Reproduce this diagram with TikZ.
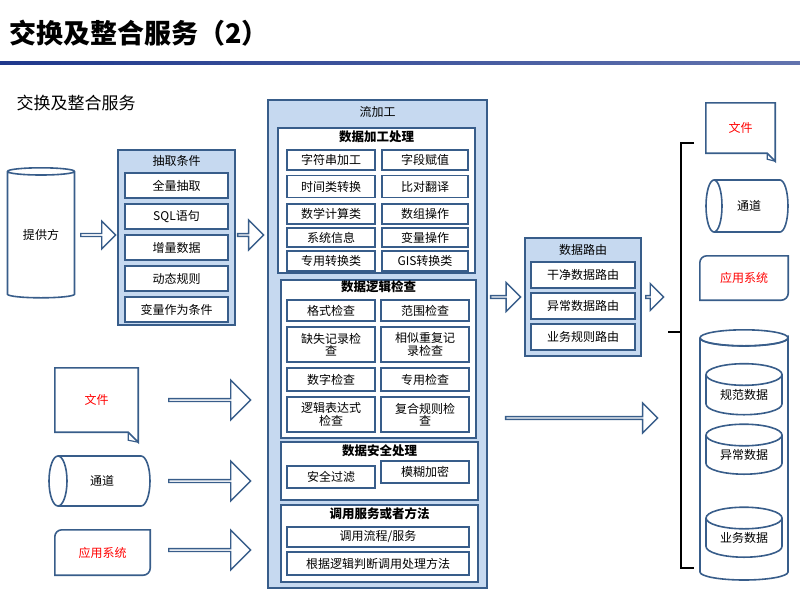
\documentclass[tikz,border=0pt]{standalone}
\usepackage{fontspec}
\setmainfont{Noto Sans CJK SC}
\usetikzlibrary{shapes.geometric, shapes.arrows}
\definecolor{frameblue}{RGB}{56,93,138}
\definecolor{paleblue}{RGB}{198,217,240}
\definecolor{titleblue}{RGB}{31,56,140}
\tikzset{
  outer/.style={rectangle, draw=frameblue, line width=2pt, fill=paleblue, inner sep=0pt},
  group/.style={rectangle, draw=frameblue, line width=1.6pt, fill=white, inner sep=0pt},
  cell/.style={rectangle, draw=frameblue, line width=1.6pt, fill=white, inner sep=0pt, align=center,
    font=\fontsize{12}{12.5}\selectfont},
  head/.style={font=\fontsize{12}{13}\selectfont},
  bhead/.style={font=\bfseries\fontsize{12.5}{13}\selectfont},
  barrow/.style={single arrow, draw=frameblue, line width=1.4pt, fill=white, inner sep=0pt, shape border rotate=0},
  drum/.style={cylinder, shape border rotate=90, draw=frameblue, line width=1.6pt, fill=white, inner sep=0pt,
    font=\fontsize{12}{13}\selectfont},
  shell/.style={draw=frameblue, line width=1.6pt, fill=white},
  plain/.style={rectangle, inner sep=0pt, font=\fontsize{12}{13}\selectfont}
}
\begin{document}
\begin{tikzpicture}[x=1pt, y=-1pt]
\useasboundingbox (0,0) rectangle (800,600);

% title
\node[anchor=west, font=\bfseries\fontsize{27}{29}\selectfont] (title) at (6,33) {交换及整合服务（2）};
\shade[left color=titleblue, right color=titleblue!70] (0,61) rectangle (800,64);
\node[anchor=west, font=\fontsize{17}{18}\selectfont] (sub) at (13,103) {交换及整合服务};

% provider
\node[drum, minimum width=67, minimum height=130, aspect=0.2] (src) at (41,235) {提供方};
\node[barrow, minimum height=35, minimum width=28, single arrow head extend=6] (a1) at (97.5,235) {};

% extraction
\node[outer, minimum width=117, minimum height=175] (ext) at (176.5,237.5) {};
\node[head] (extt) at (176.5,161) {抽取条件};
\node[cell, minimum width=103, minimum height=25] (e1) at (176.5,185.5) {全量抽取};
\node[cell, minimum width=103, minimum height=25] (e2) at (176.5,216.5) {SQL语句};
\node[cell, minimum width=103, minimum height=25] (e3) at (176.5,247.5) {增量数据};
\node[cell, minimum width=103, minimum height=25] (e4) at (176.5,278.5) {动态规则};
\node[cell, minimum width=103, minimum height=25] (e5) at (176.5,309.5) {变量作为条件};
\node[barrow, minimum height=26, minimum width=30, single arrow head extend=7] (a2) at (250,235) {};

% stream processing
\node[outer, minimum width=219, minimum height=488] (flow) at (377.5,344) {};
\node[head] (flowt) at (377.5,112) {流加工};

\node[group, minimum width=197, minimum height=145] (proc) at (376.5,200.5) {};
\node[bhead] (proct) at (376.5,137) {数据加工处理};
\node[cell, minimum width=88, minimum height=20] (p1) at (331,160) {字符串加工};
\node[cell, minimum width=86, minimum height=20] (p2) at (425,160) {字段赋值};
\node[cell, minimum width=88, minimum height=22] (p3) at (331,186.5) {时间类转换};
\node[cell, minimum width=86, minimum height=22] (p4) at (425,186.5) {比对翻译};
\node[cell, minimum width=88, minimum height=20] (p5) at (331,214) {数学计算类};
\node[cell, minimum width=86, minimum height=20] (p6) at (425,214) {数组操作};
\node[cell, minimum width=88, minimum height=19] (p7) at (331,237.5) {系统信息};
\node[cell, minimum width=86, minimum height=19] (p8) at (425,237.5) {变量操作};
\node[cell, minimum width=88, minimum height=20] (p9) at (331,261) {专用转换类};
\node[cell, minimum width=86, minimum height=20] (p10) at (425,261) {GIS转换类};

\node[group, minimum width=195, minimum height=158] (chk) at (378.5,359) {};
\node[bhead] (chkt) at (378.5,287) {数据逻辑检查};
\node[cell, minimum width=88, minimum height=21] (c1) at (331,310.5) {格式检查};
\node[cell, minimum width=88, minimum height=21] (c2) at (425,310.5) {范围检查};
\node[cell, minimum width=88, minimum height=35, text width=84] (c3) at (331,344.5) {缺失记录检\\查};
\node[cell, minimum width=88, minimum height=35, text width=84] (c4) at (425,344.5) {相似重复记\\录检查};
\node[cell, minimum width=88, minimum height=23] (c5) at (331,379.5) {数字检查};
\node[cell, minimum width=88, minimum height=23] (c6) at (425,379.5) {专用检查};
\node[cell, minimum width=88, minimum height=35, text width=84] (c7) at (331,414.5) {逻辑表达式\\检查};
\node[cell, minimum width=88, minimum height=35, text width=84] (c8) at (425,414.5) {复合规则检\\查};

\node[group, minimum width=197, minimum height=58] (sec) at (379.5,471) {};
\node[bhead] (sect) at (379.5,451) {数据安全处理};
\node[cell, minimum width=88, minimum height=22] (s1) at (331,477) {安全过滤};
\node[cell, minimum width=88, minimum height=22] (s2) at (425,472) {模糊加密};

\node[group, minimum width=197, minimum height=77] (call) at (379.5,543.5) {};
\node[bhead] (callt) at (379.5,514) {调用服务或者方法};
\node[cell, minimum width=182, minimum height=20] (m1) at (378,537) {调用流程/服务};
\node[cell, minimum width=182, minimum height=23] (m2) at (378,563.5) {根据逻辑判断调用处理方法};

\node[barrow, minimum height=30, minimum width=29, single arrow head extend=7] (a3) at (505,297) {};

% routing
\node[outer, minimum width=116, minimum height=118] (route) at (583,297) {};
\node[head] (routet) at (583,250) {数据路由};
\node[cell, minimum width=104, minimum height=26] (r1) at (583,275) {干净数据路由};
\node[cell, minimum width=104, minimum height=26] (r2) at (583,306) {异常数据路由};
\node[cell, minimum width=104, minimum height=26] (r3) at (583,337) {业务规则路由};
\node[barrow, minimum height=18, minimum width=27, single arrow head extend=6] (a4) at (654,297) {};

\node[barrow, minimum height=152, minimum width=30, single arrow head extend=7] (a5) at (581,418) {};

% bracket
\coordinate (bt) at (694,143);
\coordinate (bm) at (668,332);
\coordinate (bb) at (694,568);
\draw[line width=1.8pt] (bt) -- (681,143) -- (681,568) -- (bb);
\draw[line width=1.8pt] (681,332) -- (bm);

% targets
\node[plain, minimum width=69, minimum height=50, text=red] (fileR) at (740.5,128) {文件};
\draw[frameblue, line width=1.6pt] (fileR.north west) -- (fileR.north east) -- ([yshift=-8]fileR.south east)
  -- ([xshift=-8]fileR.south east) -- (fileR.south west) -- cycle;
\draw[frameblue, line width=1.2pt] ([yshift=-8]fileR.south east) -- ([xshift=-8,yshift=-6]fileR.south east) -- ([xshift=-8]fileR.south east);
\draw[shell] (714,180) -- (780,180) arc[start angle=-90, end angle=90, x radius=8, y radius=26] -- (714,232);
\draw[shell] (714,206) ellipse[x radius=8, y radius=26];
\node[plain] (pipeR) at (749,206) {通道};
\node[plain, minimum width=88, minimum height=44, text=red] (appR) at (744,278) {应用系统};
\draw[frameblue, line width=1.6pt] (appR.south west) [rounded corners=7pt] -- (appR.north west) [sharp corners] -- (appR.north east)
  [rounded corners=7pt] -- (appR.south east) [sharp corners] -- cycle;

\node[plain, minimum width=88, minimum height=250] (store) at (744,455) {};
\draw[shell] (700,338) -- (700,572) arc[start angle=180, end angle=0, x radius=44, y radius=8]
  -- (788,338) arc[start angle=0, end angle=180, x radius=44, y radius=8];
\draw[frameblue, line width=1.6pt] (store.north) ++(0,8) ellipse[x radius=44, y radius=8];
\node[drum, minimum width=76, minimum height=51, aspect=0.45] (d1) at (744,395) {规范数据};
\node[drum, minimum width=76, minimum height=50, aspect=0.45] (d2) at (744,455) {异常数据};
\node[drum, minimum width=76, minimum height=50, aspect=0.45] (d3) at (744,538) {业务数据};

% other sources
\node[plain, minimum width=83, minimum height=64, text=red] (fileL) at (96.5,400) {文件};
\draw[frameblue, line width=1.6pt] (fileL.north west) -- (fileL.north east) -- ([yshift=-10]fileL.south east)
  -- ([xshift=-10]fileL.south east) -- (fileL.south west) -- cycle;
\draw[frameblue, line width=1.2pt] ([yshift=-10]fileL.south east) -- ([xshift=-10,yshift=-8]fileL.south east) -- ([xshift=-10]fileL.south east);
\draw[shell] (58,456) -- (141,456) arc[start angle=-90, end angle=90, x radius=9, y radius=25] -- (58,506);
\draw[shell] (58,481) ellipse[x radius=9, y radius=25];
\node[plain] (pipeL) at (102,481) {通道};
\node[plain, minimum width=95, minimum height=45, text=red] (appL) at (102.5,552.5) {应用系统};
\draw[frameblue, line width=1.6pt] (appL.south west) [rounded corners=7pt] -- (appL.north west) [sharp corners] -- (appL.north east)
  [rounded corners=7pt] -- (appL.south east) [sharp corners] -- cycle;

\node[barrow, minimum height=82, minimum width=40, single arrow head extend=9] (b1) at (209,400) {};
\node[barrow, minimum height=82, minimum width=40, single arrow head extend=9] (b2) at (209,481) {};
\node[barrow, minimum height=82, minimum width=40, single arrow head extend=9] (b3) at (209,550) {};

\end{tikzpicture}
\end{document}
